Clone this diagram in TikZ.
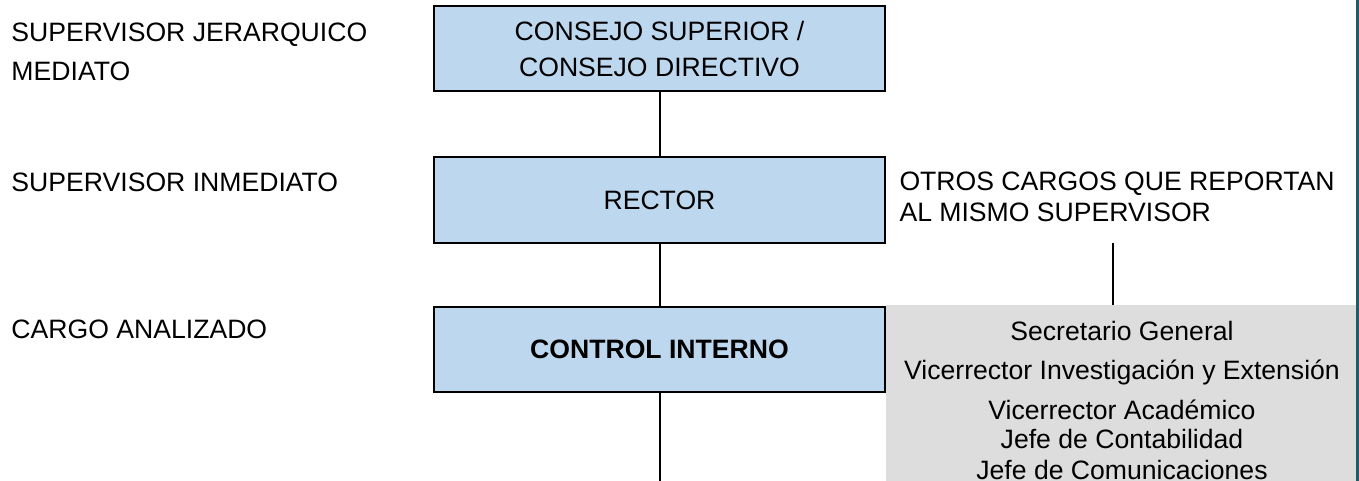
\documentclass[tikz,border=0pt]{standalone}
\usepackage{fontspec}
\setmainfont{Liberation Sans}
\definecolor{boxblue}{HTML}{BDD7EE}
\definecolor{boxgrey}{HTML}{DDDDDD}
\definecolor{edgeteal}{HTML}{255A66}
\begin{document}
\begin{tikzpicture}[x=1pt,y=-1pt,
  every node/.style={inner sep=0pt, outer sep=0pt, font=\fontsize{26.6}{36}\selectfont},
  box/.style={draw=black, line width=2pt, fill=boxblue, minimum width=451pt, minimum height=85pt, align=center},
  greybox/.style={fill=boxgrey, minimum width=470pt, minimum height=200pt, anchor=north west},
  lbl/.style={anchor=base west},
  glbl/.style={anchor=base},
  conn/.style={draw=black, line width=2pt}]
\clip (0,0) rectangle (1359,481);
\fill[white] (0,0) rectangle (1359,481);
% left labels
\node[lbl] (l1a) at (11.5,41.7) {SUPERVISOR JERARQUICO};
\node[lbl] (l1b) at (11.5,80.7) {MEDIATO};
\node[lbl] (l2) at (11.5,191.7) {SUPERVISOR INMEDIATO};
\node[lbl] (l3) at (11.5,338.3) {CARGO ANALIZADO};
% boxes
\node[box] (consejo) at (659.5,49) {CONSEJO SUPERIOR /\\CONSEJO DIRECTIVO};
\node[box] (rector) at (659.5,200) {RECTOR};
\node[box, font=\fontsize{26.6}{36}\selectfont\bfseries] (control) at (659.5,349) {CONTROL INTERNO};
% grey box
\node[greybox] (grey) at (886,305) {};
% otros text
\node[lbl] (o1) at (899.5,190.7) {OTROS CARGOS QUE REPORTAN};
\node[lbl] (o2) at (899.5,221) {AL MISMO SUPERVISOR};
% grey texts
\node[glbl] (g1) at (1122,340.7) {Secretario General};
\node[glbl] (g2) at (1122,379) {Vicerrector Investigación y Extensión};
\node[glbl] (g3) at (1122,419.3) {Vicerrector Académico};
\node[glbl] (g4) at (1122,448.3) {Jefe de Contabilidad};
\node[glbl] (g5) at (1122,479) {Jefe de Comunicaciones};
% connectors
\draw[conn] (consejo.south) -- (rector.north);
\draw[conn] (rector.south) -- (control.north);
\coordinate (bottomend) at (659.5,490);
\draw[conn] (control.south) -- (control.south |- bottomend);
\coordinate (otrosend) at (1113,243);
\draw[conn] (otrosend) -- (otrosend |- grey.north);
% right edge line
\draw[edgeteal, line width=2.6pt] (1357.7,-5) -- (1357.7,490);
\end{tikzpicture}
\end{document}
